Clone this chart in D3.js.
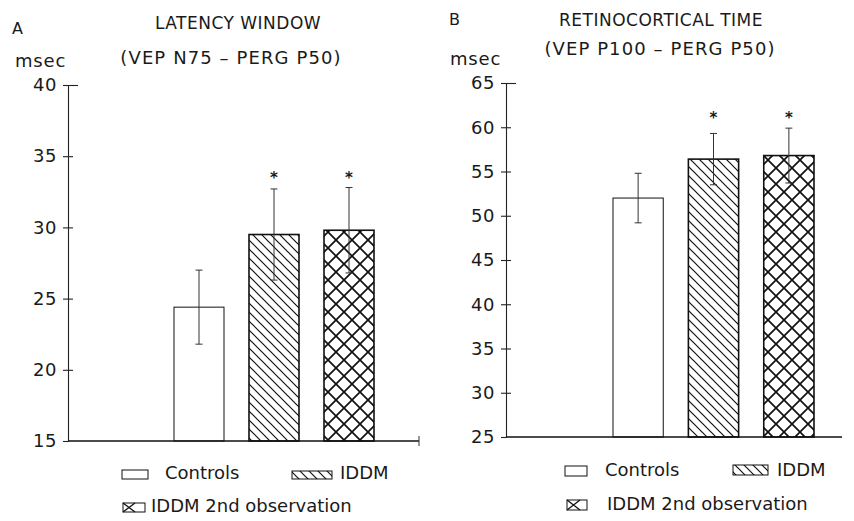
<!DOCTYPE html>
<html>
<head>
<meta charset="utf-8">
<script src="https://cdn.jsdelivr.net/npm/d3@7"></script>
<style>
  body { margin: 0; background: #fff; }
  text { font-family: "DejaVu Sans", sans-serif; fill: #1a1a1a; }
</style>
</head>
<body>
<div id="chart"></div>
<script>
var groups = ["Controls", "IDDM", "IDDM 2nd observation"];

// panel A : latency window (VEP N75 - PERG P50)
var latencyMean = [24.4, 29.5, 29.8];
var latencySE = [2.6, 3.2, 3.0];
var latencySig = [false, true, true];
var latencyTicks = [15, 20, 25, 30, 35, 40];

// panel B : retinocortical time (VEP P100 - PERG P50)
var retinoMean = [52.0, 56.4, 56.8];
var retinoSE = [2.8, 2.9, 3.1];
var retinoSig = [false, true, true];
var retinoTicks = [25, 30, 35, 40, 45, 50, 55, 60, 65];

var width = 854, height = 521;

var svg = d3.select("#chart").append("svg")
    .attr("width", width)
    .attr("height", height);

var defs = svg.append("defs");

// single hatch  \\\
var p1 = defs.append("pattern")
    .attr("id", "hatch")
    .attr("patternUnits", "userSpaceOnUse")
    .attr("width", 9).attr("height", 9);
p1.append("rect").attr("width", 9).attr("height", 9).attr("fill", "#fff");
p1.append("path")
    .attr("d", "M-1,-1 L10,10 M-1,8 L1,10 M8,-1 L10,1")
    .attr("stroke", "#111").attr("stroke-width", 1.2);

// cross hatch
var p2 = defs.append("pattern")
    .attr("id", "cross")
    .attr("patternUnits", "userSpaceOnUse")
    .attr("width", 16).attr("height", 16);
p2.append("rect").attr("width", 16).attr("height", 16).attr("fill", "#fff");
p2.append("path")
    .attr("d", "M-1,-1 L17,17 M-1,17 L17,-1")
    .attr("stroke", "#111").attr("stroke-width", 1.7);

var fills = ["#fff", "url(#hatch)", "url(#cross)"];

function drawPanel(cfg) {
    var g = svg.append("g");

    var x = d3.scaleBand()
        .domain(groups)
        .range(cfg.barRange)
        .paddingInner(1 / 3)
        .paddingOuter(0);

    var y = d3.scaleLinear()
        .domain(cfg.domain)
        .range(cfg.yRange);

    var data = groups.map(function(k, i) {
        return {key: k, mean: cfg.mean[i], se: cfg.se[i], sig: cfg.sig[i], fill: fills[i]};
    });

    // bars
    g.selectAll("rect.bar")
        .data(data)
        .enter().append("rect")
        .attr("class", "bar")
        .attr("x", function(d) { return x(d.key); })
        .attr("y", function(d) { return y(d.mean); })
        .attr("width", x.bandwidth())
        .attr("height", function(d) { return y(cfg.domain[0]) - y(d.mean); })
        .attr("fill", function(d) { return d.fill; })
        .attr("stroke", "#111")
        .attr("stroke-width", function(d, i) { return i == 0 ? 1 : 1.6; });

    // error bars
    var eb = g.selectAll("g.err")
        .data(data)
        .enter().append("g")
        .attr("class", "err")
        .attr("stroke", "#333")
        .attr("stroke-width", 1);
    eb.append("line")
        .attr("x1", function(d) { return x(d.key) + x.bandwidth() / 2; })
        .attr("x2", function(d) { return x(d.key) + x.bandwidth() / 2; })
        .attr("y1", function(d) { return y(d.mean - d.se); })
        .attr("y2", function(d) { return y(d.mean + d.se); });
    eb.selectAll("line.cap")
        .data(function(d) { return [[d, d.mean + d.se], [d, d.mean - d.se]]; })
        .enter().append("line")
        .attr("class", "cap")
        .attr("x1", function(d) { return x(d[0].key) + x.bandwidth() / 2 - 3.5; })
        .attr("x2", function(d) { return x(d[0].key) + x.bandwidth() / 2 + 3.5; })
        .attr("y1", function(d) { return y(d[1]); })
        .attr("y2", function(d) { return y(d[1]); });

    // significance stars
    var topY = d3.min(data.filter(function(d) { return d.sig; }), function(d) { return y(d.mean + d.se); });
    g.selectAll("text.star")
        .data(data.filter(function(d) { return d.sig; }))
        .enter().append("text")
        .attr("class", "star")
        .attr("x", function(d) { return x(d.key) + x.bandwidth() / 2; })
        .attr("y", topY - 13 + 8)
        .attr("text-anchor", "middle")
        .style("font-size", "15px")
        .style("font-weight", "bold")
        .text("*");

    // y axis
    var yAxis = d3.axisLeft(y)
        .tickValues(cfg.ticks)
        .tickSize(5)
        .tickSizeOuter(0)
        .tickPadding(6);
    var ya = g.append("g")
        .attr("transform", "translate(" + cfg.axisX + ",0)")
        .call(yAxis);
    ya.select(".domain").attr("stroke", "#222").attr("stroke-width", 1.1);
    ya.selectAll(".tick line")
        .attr("stroke", "#222")
        .attr("stroke-width", 1.1)
        .attr("x1", function(d) {
            if (d == cfg.domain[1]) return 10;
            if (d == cfg.domain[0]) return 0;
            return 5;
        });
    ya.selectAll(".tick text")
        .style("font-size", "18px")
        .style("letter-spacing", "0.5px")
        .style("font-family", "DejaVu Sans, sans-serif")
        .attr("fill", "#1a1a1a");

    // x axis line
    g.append("line")
        .attr("x1", cfg.axisX).attr("x2", cfg.xEnd)
        .attr("y1", y(cfg.domain[0])).attr("y2", y(cfg.domain[0]))
        .attr("stroke", "#111").attr("stroke-width", 1.6);
    if (cfg.endTick) {
        g.append("line")
            .attr("x1", cfg.xEnd).attr("x2", cfg.xEnd)
            .attr("y1", y(cfg.domain[0]) - 5).attr("y2", y(cfg.domain[0]) + 5)
            .attr("stroke", "#333").attr("stroke-width", 1);
    }

    // labels
    g.append("text").attr("x", cfg.letter[0]).attr("y", cfg.letter[1])
        .style("font-size", "16px").text(cfg.letterText);
    g.append("text").attr("x", cfg.unit[0]).attr("y", cfg.unit[1])
        .style("font-size", "18px").style("letter-spacing", "0.8px").text("msec");
    g.append("text").attr("x", cfg.title1[0]).attr("y", cfg.title1[1])
        .attr("text-anchor", "middle").style("font-size", "17px")
        .style("letter-spacing", "0.5px").text(cfg.titleText1);
    g.append("text").attr("x", cfg.title2[0]).attr("y", cfg.title2[1])
        .attr("text-anchor", "middle").style("font-size", "18px")
        .style("letter-spacing", "1.1px").text(cfg.titleText2);

    // legend
    var lg = g.selectAll("g.leg")
        .data(cfg.legend)
        .enter().append("g")
        .attr("class", "leg");
    lg.append("rect")
        .attr("x", function(d) { return d.bx; })
        .attr("y", function(d) { return d.by; })
        .attr("width", function(d) { return d.bw; })
        .attr("height", function(d) { return d.bh; })
        .attr("fill", function(d, i) { return i == 2 ? "#fff" : fills[i]; })
        .attr("stroke", "#111")
        .attr("stroke-width", 1);
    // cross box in legend: a single X
    lg.filter(function(d, i) { return i == 2; })
        .append("path")
        .attr("d", function(d) {
            var s = Math.min(d.bw, d.bh) + 3;
            return "M" + d.bx + "," + d.by + " L" + (d.bx + s) + "," + (d.by + d.bh) +
                   " M" + d.bx + "," + (d.by + d.bh) + " L" + (d.bx + s) + "," + d.by;
        })
        .attr("stroke", "#111")
        .attr("stroke-width", 1.3)
        .attr("fill", "none");
    lg.append("text")
        .attr("x", function(d) { return d.tx; })
        .attr("y", function(d) { return d.ty; })
        .style("font-size", "18px")
        .text(function(d, i) { return groups[i]; });
}

drawPanel({
    mean: latencyMean, se: latencySE, sig: latencySig, ticks: latencyTicks,
    domain: [15, 40], yRange: [441, 85],
    barRange: [174, 374], axisX: 68, xEnd: 419, endTick: true,
    letterText: "A", letter: [12, 34], unit: [15, 67],
    titleText1: "LATENCY WINDOW", title1: [238, 29],
    titleText2: "(VEP N75 \u2013 PERG P50)", title2: [231, 64],
    legend: [
        {bx: 122, by: 470, bw: 26, bh: 9, tx: 165, ty: 479},
        {bx: 292, by: 471, bw: 40, bh: 8, tx: 340, ty: 479},
        {bx: 123, by: 503, bw: 22, bh: 9, tx: 151, ty: 512}
    ]
});

drawPanel({
    mean: retinoMean, se: retinoSE, sig: retinoSig, ticks: retinoTicks,
    domain: [25, 65], yRange: [437, 83],
    barRange: [613, 814], axisX: 506, xEnd: 842, endTick: false,
    letterText: "B", letter: [449, 25], unit: [450, 65],
    titleText1: "RETINOCORTICAL TIME", title1: [661, 26],
    titleText2: "(VEP P100 \u2013 PERG P50)", title2: [660, 55],
    legend: [
        {bx: 565, by: 466, bw: 22, bh: 10, tx: 605, ty: 476},
        {bx: 733, by: 465, bw: 35, bh: 10, tx: 777, ty: 476},
        {bx: 567, by: 500, bw: 20, bh: 10, tx: 607, ty: 510}
    ]
});
</script>
</body>
</html>
